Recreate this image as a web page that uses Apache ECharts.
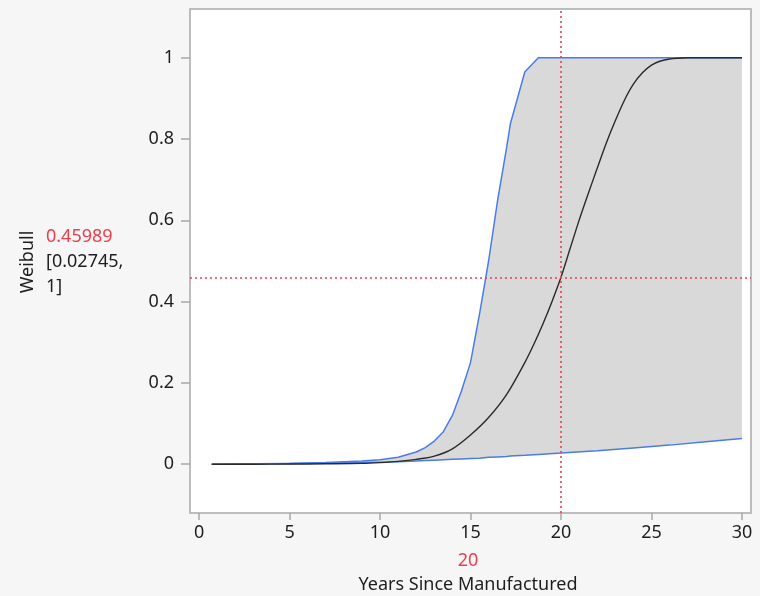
<!DOCTYPE html>
<html>
<head>
<meta charset="utf-8">
<script src="https://cdn.jsdelivr.net/npm/echarts@6/dist/echarts.min.js"></script>
<style>
html, body { margin: 0; padding: 0; background: #f6f6f6; }
#chart { width: 760px; height: 596px; }
</style>
</head>
<body>
<div id="chart"></div>
<script>
// band grid (years) with lower / upper confidence limits
var bandYears = [0.7, 3, 5, 7, 9, 10, 11, 12, 12.5, 13, 13.5, 14, 14.5, 15, 15.5, 16, 16.5, 17, 17.2, 18, 18.75, 20, 22, 24, 26, 28, 30]
var lowerLimit = [0, 0.001, 0.002, 0.003, 0.004, 0.005, 0.006, 0.008, 0.009, 0.01, 0.011, 0.012, 0.013, 0.014, 0.015, 0.017, 0.018, 0.019, 0.02, 0.022, 0.024, 0.02745, 0.033, 0.04, 0.047, 0.055, 0.063]
var upperLimit = [0, 0.001, 0.002, 0.004, 0.008, 0.011, 0.017, 0.03, 0.041, 0.057, 0.08, 0.12, 0.18, 0.25, 0.37, 0.5, 0.65, 0.78, 0.837, 0.965, 1, 1, 1, 1, 1, 1, 1]

// fitted weibull curve
var fitYears = [0.7, 3, 5, 7, 9, 10, 11, 12, 13, 14, 15, 16, 17, 18, 18.5, 19, 19.5, 20, 20.5, 21, 21.5, 22, 22.5, 23, 23.5, 24, 24.5, 25, 25.5, 26, 26.5, 27, 28, 30]
var fitValues = [0, 0, 0.0005, 0.001, 0.002, 0.004, 0.007, 0.012, 0.02, 0.038, 0.072, 0.115, 0.172, 0.25, 0.295, 0.345, 0.4, 0.46, 0.53, 0.6, 0.665, 0.728, 0.79, 0.845, 0.895, 0.935, 0.963, 0.982, 0.992, 0.997, 0.999, 1, 1, 1]

var xTicks = [0, 5, 10, 15, 20, 25, 30]
var yTicks = [0, 0.2, 0.4, 0.6, 0.8, 1]

// crosshair readout
var crossX = 20
var crossY = 0.45989
var crossLow = 0.02745
var crossHigh = 1

var blue = '#4a7ce6'
var red = '#e8404f'
var ink = '#1e1e1e'

var lowerData = bandYears.map(function (x, i) { return [x, lowerLimit[i]] })
var upperData = bandYears.map(function (x, i) { return [x, upperLimit[i]] })
var fitData = fitYears.map(function (x, i) { return [x, fitValues[i]] })

var font = '"Noto Sans", "Open Sans", sans-serif'
var fsz = 18

var option = {
  backgroundColor: '#f6f6f6',
  animation: false,
  grid: {
    left: 190,
    right: 9,
    top: 9,
    bottom: 83,
    show: true,
    backgroundColor: '#ffffff',
    borderColor: '#bdbdbd',
    borderWidth: 2
  },
  xAxis: {
    type: 'value',
    min: -0.5,
    max: 30.5,
    axisLine: { show: false, onZero: false },
    splitLine: { show: false },
    axisTick: {
      show: true,
      customValues: xTicks,
      length: 7,
      lineStyle: { color: '#a8a8a8', width: 1.5 }
    },
    axisLabel: {
      customValues: xTicks,
      color: ink,
      fontSize: fsz,
      fontFamily: font,
      margin: 11
    }
  },
  yAxis: {
    type: 'value',
    min: -0.12,
    max: 1.12,
    axisLine: { show: false, onZero: false },
    splitLine: { show: false },
    axisTick: {
      show: true,
      customValues: yTicks,
      length: 9,
      lineStyle: { color: '#a8a8a8', width: 1.5 }
    },
    axisLabel: {
      customValues: yTicks,
      color: ink,
      fontSize: fsz,
      fontFamily: font,
      margin: 16
    }
  },
  graphic: [
    {
      type: 'text', x: 468, y: 561,
      style: { text: String(crossX), fill: red, font: fsz + 'px ' + font, align: 'center', verticalAlign: 'middle' }
    },
    {
      type: 'text', x: 468, y: 585,
      style: { text: 'Years Since Manufactured', fill: ink, font: fsz + 'px ' + font, align: 'center', verticalAlign: 'middle' }
    },
    {
      type: 'text', x: 28, y: 262, rotation: Math.PI / 2,
      style: { text: 'Weibull', fill: ink, font: fsz + 'px ' + font, align: 'center', verticalAlign: 'middle' }
    },
    {
      type: 'text', x: 46, y: 237,
      style: { text: String(crossY), fill: red, font: fsz + 'px ' + font, align: 'left', verticalAlign: 'middle' }
    },
    {
      type: 'text', x: 46, y: 262,
      style: { text: '[' + crossLow + ',', fill: ink, font: fsz + 'px ' + font, align: 'left', verticalAlign: 'middle' }
    },
    {
      type: 'text', x: 46, y: 287,
      style: { text: crossHigh + ']', fill: ink, font: fsz + 'px ' + font, align: 'left', verticalAlign: 'middle' }
    }
  ],
  series: [
    {
      // shaded confidence band: upper limit forward, lower limit back
      name: 'band',
      type: 'custom',
      data: [0],
      z: 1,
      silent: true,
      renderItem: function (params, api) {
        var pts = []
        upperData.forEach(function (d) { pts.push(api.coord(d)) })
        for (var i = lowerData.length - 1; i >= 0; i--) {
          pts.push(api.coord(lowerData[i]))
        }
        return {
          type: 'polygon',
          shape: { points: pts },
          style: { fill: '#d9d9d9' }
        }
      }
    },
    {
      name: 'lower',
      type: 'line',
      data: lowerData,
      symbol: 'none',
      z: 3,
      lineStyle: { color: blue, width: 1.5 }
    },
    {
      name: 'upper',
      type: 'line',
      data: upperData,
      symbol: 'none',
      z: 3,
      lineStyle: { color: blue, width: 1.5 }
    },
    {
      name: 'fit',
      type: 'line',
      data: fitData,
      symbol: 'none',
      smooth: 0.3,
      z: 4,
      lineStyle: { color: '#2a2a2a', width: 1.4 },
      markLine: {
        silent: true,
        symbol: 'none',
        label: { show: false },
        lineStyle: { color: red, type: [2, 3], width: 1.6 },
        data: [{ xAxis: crossX }, { yAxis: crossY }]
      }
    }
  ]
}

var chart = echarts.init(document.getElementById('chart'))
chart.setOption(option)
</script>
</body>
</html>
